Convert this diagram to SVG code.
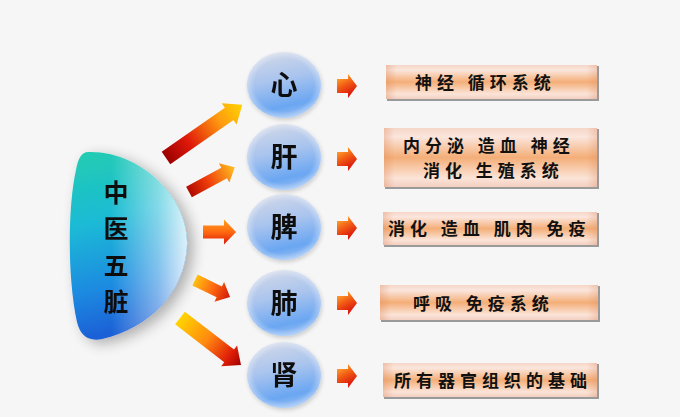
<svg xmlns="http://www.w3.org/2000/svg" width="680" height="417" viewBox="0 0 680 417">
<defs>
<linearGradient id="lensV" x1="0" y1="0" x2="0.15" y2="1">
<stop offset="0" stop-color="#22cdb0"/>
<stop offset="0.4" stop-color="#1cbad6"/>
<stop offset="0.75" stop-color="#1a8ae0"/>
<stop offset="1" stop-color="#1a5fd6"/>
</linearGradient>
<linearGradient id="lensH" x1="0" y1="0" x2="1" y2="0">
<stop offset="0.35" stop-color="#ffffff" stop-opacity="0"/>
<stop offset="0.75" stop-color="#ffffff" stop-opacity="0.45"/>
<stop offset="1" stop-color="#ffffff" stop-opacity="0.85"/>
</linearGradient>
<filter id="lensShadow" x="-30%" y="-20%" width="170%" height="150%">
<feGaussianBlur in="SourceAlpha" stdDeviation="7"/>
<feOffset dx="6" dy="4" result="b"/>
<feComponentTransfer><feFuncA type="linear" slope="0.3"/></feComponentTransfer>
<feMerge><feMergeNode/><feMergeNode in="SourceGraphic"/></feMerge>
</filter>
<filter id="soft" x="-20%" y="-20%" width="150%" height="150%">
<feGaussianBlur in="SourceAlpha" stdDeviation="2"/>
<feOffset dx="1" dy="2"/>
<feComponentTransfer><feFuncA type="linear" slope="0.18"/></feComponentTransfer>
<feMerge><feMergeNode/><feMergeNode in="SourceGraphic"/></feMerge>
</filter>
<linearGradient id="circ" x1="0.2" y1="0" x2="0.45" y2="1">
<stop offset="0" stop-color="#d3d9e8"/>
<stop offset="0.45" stop-color="#a9c4ee"/>
<stop offset="0.85" stop-color="#6aa6f2"/>
<stop offset="1" stop-color="#8fbaf2"/>
</linearGradient>
<radialGradient id="circRim" cx="0.5" cy="0.5" r="0.5">
<stop offset="0.8" stop-color="#ffffff" stop-opacity="0"/>
<stop offset="1" stop-color="#ffffff" stop-opacity="0.35"/>
</radialGradient>
<linearGradient id="boxV" x1="0" y1="0" x2="0" y2="1">
<stop offset="0" stop-color="#f6d6c8"/>
<stop offset="0.15" stop-color="#fbe6dd"/>
<stop offset="0.5" stop-color="#f4ae78"/>
<stop offset="0.85" stop-color="#fbe4d8"/>
<stop offset="1" stop-color="#f2cfc0"/>
</linearGradient>
<linearGradient id="boxH" x1="0" y1="0" x2="1" y2="0">
<stop offset="0" stop-color="#d98050" stop-opacity="0.3"/>
<stop offset="0.05" stop-color="#d98050" stop-opacity="0"/>
<stop offset="0.95" stop-color="#d98050" stop-opacity="0"/>
<stop offset="1" stop-color="#d98050" stop-opacity="0.25"/>
</linearGradient>
<linearGradient id="ga1" x1="0" y1="0" x2="1" y2="0">
<stop offset="0" stop-color="#9c0000"/>
<stop offset="0.3" stop-color="#e01a0a"/>
<stop offset="0.7" stop-color="#ff9a10"/>
<stop offset="1" stop-color="#ffd400"/>
</linearGradient>
<linearGradient id="ga2" x1="0" y1="0" x2="1" y2="0">
<stop offset="0" stop-color="#b00a00"/>
<stop offset="0.4" stop-color="#ee3a0a"/>
<stop offset="1" stop-color="#ffc020"/>
</linearGradient>
<linearGradient id="ga3" x1="0" y1="0" x2="0" y2="1">
<stop offset="0" stop-color="#ffa020"/>
<stop offset="0.5" stop-color="#ff6a10"/>
<stop offset="1" stop-color="#d81808"/>
</linearGradient>
<linearGradient id="ga4" x1="0" y1="0" x2="1" y2="0">
<stop offset="0" stop-color="#ffc010"/>
<stop offset="0.5" stop-color="#ff6a10"/>
<stop offset="1" stop-color="#d01808"/>
</linearGradient>
<linearGradient id="ga5" x1="0" y1="0" x2="1" y2="0">
<stop offset="0" stop-color="#ffd400"/>
<stop offset="0.45" stop-color="#ff8a10"/>
<stop offset="0.8" stop-color="#e02008"/>
<stop offset="1" stop-color="#a00000"/>
</linearGradient>
<linearGradient id="gs" x1="0" y1="0.1" x2="0.4" y2="1">
<stop offset="0" stop-color="#ffb030"/>
<stop offset="0.5" stop-color="#f25a14"/>
<stop offset="1" stop-color="#d8140c"/>
</linearGradient>
<style>
.cjk{font-family:"Noto Sans CJK SC","Noto Sans CJK JP",sans-serif;fill:#111;font-weight:700}
.lens-t{font-size:25px;text-anchor:middle}
.node-t{font-size:27px;text-anchor:middle}
.box-t{font-size:17px;letter-spacing:5px}
.circle{fill:url(#circ)}
.rim{fill:url(#circRim)}
.box{fill:url(#boxV)}
.boxe{fill:url(#boxH)}
.shade{fill:#9a9a9a}
.sarrow{fill:url(#gs)}
</style>
</defs>
<rect width="680" height="417" fill="#f6f6f6"/>

<g id="lens" filter="url(#lensShadow)">
<path d="M88,152 C140,150 189,198 187,245 C185,292 150,328 102,339 Q82,343 77,322 C67,275 68,205 76,170 Q79,152 88,152 Z" fill="url(#lensV)"/>
<path d="M88,152 C140,150 189,198 187,245 C185,292 150,328 102,339 Q82,343 77,322 C67,275 68,205 76,170 Q79,152 88,152 Z" fill="url(#lensH)"/>
<text class="cjk lens-t" x="116" y="201.5">中</text>
<text class="cjk lens-t" x="116" y="238">医</text>
<text class="cjk lens-t" x="116" y="274.5">五</text>
<text class="cjk lens-t" x="116" y="311">脏</text>
</g>

<g id="connectors">
<path transform="translate(166,158) rotate(-34.9)" d="M0,-7.5 L77,-7.5 L77,-13 L93,0 L77,13 L77,7.5 L0,7.5 Z" fill="url(#ga1)"/>
<path transform="translate(189,192) rotate(-28.5)" d="M0,-6 L40,-6 L40,-11 L52,0 L40,11 L40,6 L0,6 Z" fill="url(#ga2)"/>
<path transform="translate(203,232)" d="M0,-6.5 L21,-6.5 L21,-12.5 L33,0 L21,12.5 L21,6.5 L0,6.5 Z" fill="url(#ga3)"/>
<path transform="translate(195,280) rotate(26)" d="M0,-6 L27,-6 L27,-11 L39,0 L27,11 L27,6 L0,6 Z" fill="url(#ga4)"/>
<path transform="translate(180,318) rotate(37.6)" d="M0,-8 L62,-8 L62,-13 L77,0 L62,13 L62,8 L0,8 Z" fill="url(#ga5)"/>
<path class="sarrow" d="M337,79 L348,79 L348,74 L357,86 L348,98 L348,93 L337,93 Z"/>
<path class="sarrow" d="M337,152 L348,152 L348,147 L357,159 L348,171 L348,166 L337,166 Z"/>
<path class="sarrow" d="M337,221 L348,221 L348,216 L357,228 L348,240 L348,235 L337,235 Z"/>
<path class="sarrow" d="M337,296 L348,296 L348,291 L357,303 L348,315 L348,310 L337,310 Z"/>
<path class="sarrow" d="M337,369 L348,369 L348,364 L357,376 L348,388 L348,383 L337,383 Z"/>
</g>

<g id="node-xin" filter="url(#soft)">
<ellipse class="circle" cx="284" cy="85" rx="37" ry="33"/>
<ellipse class="rim" cx="284" cy="85" rx="37" ry="33"/>
<text class="cjk node-t" x="284" y="95">心</text>
</g>
<g id="node-gan" filter="url(#soft)">
<ellipse class="circle" cx="284" cy="157" rx="37" ry="33"/>
<ellipse class="rim" cx="284" cy="157" rx="37" ry="33"/>
<text class="cjk node-t" x="284" y="167">肝</text>
</g>
<g id="node-pi" filter="url(#soft)">
<ellipse class="circle" cx="284" cy="227" rx="37" ry="33"/>
<ellipse class="rim" cx="284" cy="227" rx="37" ry="33"/>
<text class="cjk node-t" x="284" y="237">脾</text>
</g>
<g id="node-fei" filter="url(#soft)">
<ellipse class="circle" cx="284" cy="303" rx="37" ry="33"/>
<ellipse class="rim" cx="284" cy="303" rx="37" ry="33"/>
<text class="cjk node-t" x="284" y="313">肺</text>
</g>
<g id="node-shen" filter="url(#soft)">
<ellipse class="circle" cx="284" cy="375" rx="37" ry="33"/>
<ellipse class="rim" cx="284" cy="375" rx="37" ry="33"/>
<text class="cjk node-t" x="284" y="385">肾</text>
</g>

<g id="box-xin">
<rect class="shade" x="387" y="66" width="212" height="35"/>
<rect class="box" x="386" y="65" width="211" height="34"/>
<rect class="boxe" x="386" y="65" width="211" height="34"/>
<text class="cjk box-t" x="415" y="88.5">神经 循环系统</text>
</g>
<g id="box-gan">
<rect class="shade" x="385" y="129" width="214" height="60"/>
<rect class="box" x="384" y="128" width="213" height="59"/>
<rect class="boxe" x="384" y="128" width="213" height="59"/>
<text class="cjk box-t" x="403" y="151.5">内分泌 造血 神经</text>
<text class="cjk box-t" x="423" y="176.5">消化 生殖系统</text>
</g>
<g id="box-pi">
<rect class="shade" x="384" y="213" width="215" height="34"/>
<rect class="box" x="383" y="212" width="214" height="33"/>
<rect class="boxe" x="383" y="212" width="214" height="33"/>
<text class="cjk box-t" x="388" y="234.5">消化 造血 肌肉 免疫</text>
</g>
<g id="box-fei">
<rect class="shade" x="381" y="286" width="219" height="36"/>
<rect class="box" x="380" y="285" width="218" height="35"/>
<rect class="boxe" x="380" y="285" width="218" height="35"/>
<text class="cjk box-t" x="413" y="309.5">呼吸 免疫系统</text>
</g>
<g id="box-shen">
<rect class="shade" x="384" y="364" width="215" height="35"/>
<rect class="box" x="383" y="363" width="214" height="34"/>
<rect class="boxe" x="383" y="363" width="214" height="34"/>
<text class="cjk box-t" x="394" y="386.5">所有器官组织的基础</text>
</g>
</svg>
